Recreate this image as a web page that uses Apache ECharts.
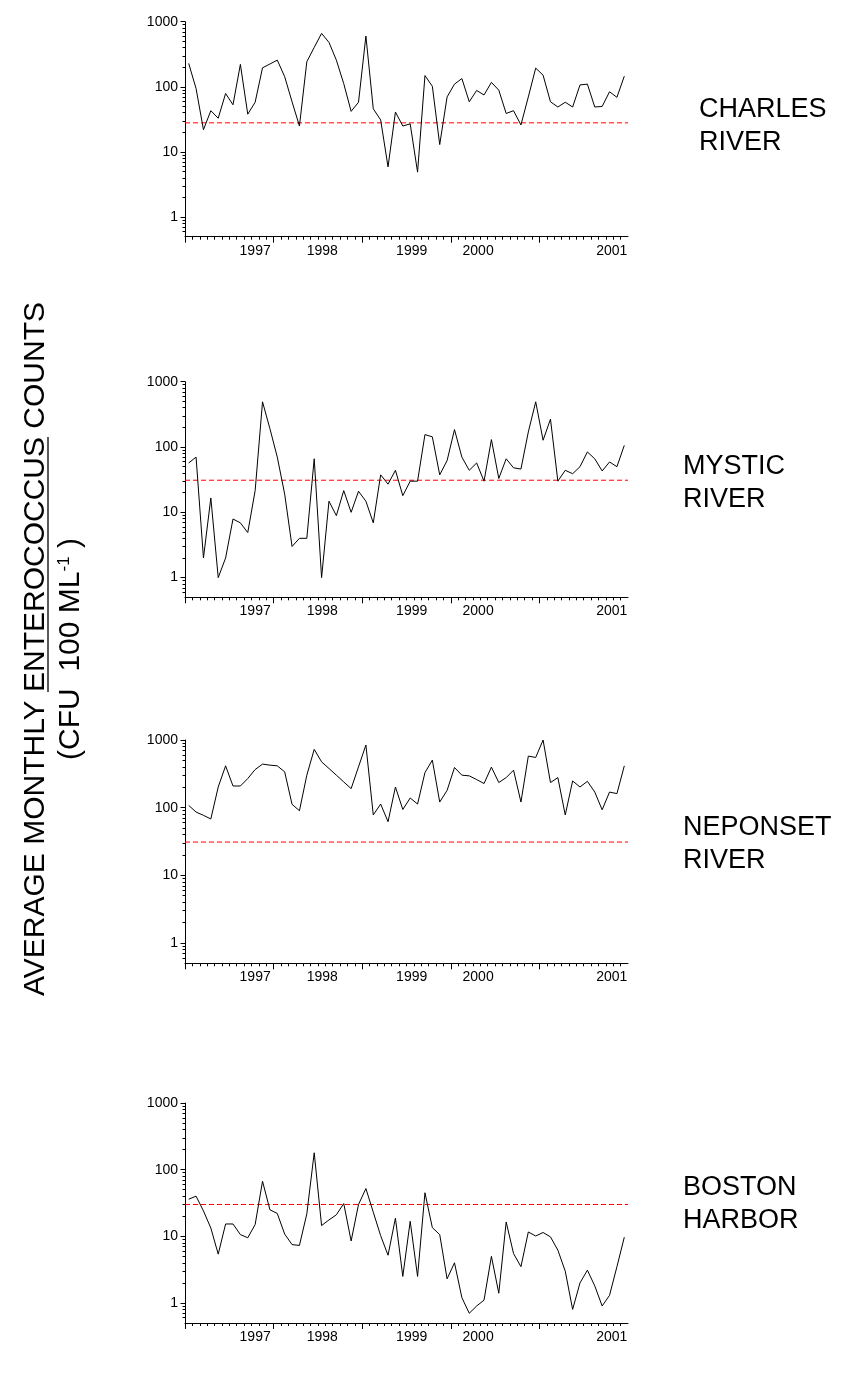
<!DOCTYPE html>
<html>
<head>
<meta charset="utf-8">
<script src="https://cdn.jsdelivr.net/npm/echarts@6/dist/echarts.min.js"></script>
<style>
  html, body { margin: 0; padding: 0; background: #fff; }
  #chart { width: 855px; height: 1376px; }
</style>
</head>
<body>
<div id="chart"></div>
<script>
// Monthly average Enterococcus counts (CFU per 100 mL), 60 consecutive months per site
const CHARLES = [229, 94, 22, 43, 33, 79, 53, 221, 38, 58, 196, 224, 257, 143, 59, 25, 243, 403, 662, 481,
  257, 112, 42, 58, 602, 46, 31, 5.9, 41, 25, 27, 4.9, 149, 102, 13, 70, 110, 134, 59, 88,
  75, 117, 89, 39, 43, 26, 70, 194, 151, 59, 49, 58, 49, 107, 110, 49, 50, 84, 69, 146];
const MYSTIC = [57, 70, 2.0, 16.6, 1.0, 2.0, 7.9, 6.9, 4.9, 21.5, 492, 191, 70, 19, 3.0, 4.0, 4.0, 66, 1.0, 14.8,
  8.9, 21.5, 10, 21, 14.8, 6.9, 37.5, 27, 44, 18, 30, 30, 155, 143, 37.5, 62, 185, 70, 44, 57,
  30, 130, 33, 66, 48, 46, 170, 492, 127, 267, 30, 44, 39, 50, 84, 66, 43, 59, 50, 106];
const NEPONSET = [108, 86, 77, 68, 202, 415, 209, 209, 269, 366, 440, 425, 415, 338, 112, 90, 302, 727, 476, 379,
  302, 240, 191, 401, 843, 78, 113, 62, 202, 94, 139, 113, 330, 504, 121, 180, 392, 302, 295, 260,
  227, 397, 235, 278, 358, 121, 578, 552, 1000, 235, 278, 78, 248, 202, 245, 170, 93, 170, 161, 415];
const BOSTON_HARBOR = [36, 40, 24, 13.3, 5.4, 15.3, 15.3, 10.6, 9.5, 15, 67, 25, 22, 10.8, 7.5, 7.3, 21.7, 179, 14.5, 17.6,
  21, 31, 8.5, 30, 52, 23, 10.2, 5.2, 18.7, 2.5, 16.8, 2.5, 45, 13.5, 10.6, 2.3, 4.0, 1.2, 0.7, 0.9,
  1.1, 5.0, 1.4, 16.4, 5.5, 3.5, 11.6, 10.1, 11.4, 9.8, 6.2, 3.0, 0.8, 2.0, 3.1, 1.8, 0.9, 1.3, 3.5, 9.7];

// Dashed reference level drawn in each panel
const STANDARD = [28, 31, 31, 30];

const SITE_NAMES = [['CHARLES', 'RIVER'], ['MYSTIC', 'RIVER'], ['NEPONSET', 'RIVER'], ['BOSTON', 'HARBOR']];

// Year captions and the month offsets where they sit on the time axis
const YEAR_LABELS = ['1997', '1998', '1999', '2000', '2001'];
const YEAR_LABEL_AT = [9.5, 18.6, 30.7, 39.7, 57.8];

// Log-axis labelled decades
const Y_LABELS = [1, 10, 100, 1000];

// ---------------------------------------------------------------------------
const SERIES_DATA = [CHARLES, MYSTIC, NEPONSET, BOSTON_HARBOR];
const FONT = '"Liberation Sans", Arial, Helvetica, sans-serif';
const MONTHS = 60;
const GRID_LEFT = 185, GRID_WIDTH = 443;
const PANELS = [
  { top: 21.7, height: 215, nameX: 699, nameY: 93.5 },
  { top: 381.7, height: 215.6, nameX: 683, nameY: 450.5 },
  { top: 740, height: 223.3, nameX: 683, nameY: 811.5 },
  { top: 1103, height: 220, nameX: 683, nameY: 1171.5 }
];

// tick positions: months and years along x, 2..9 within each decade along y
const majorX = [0, 12, 24, 36, 48];
const minorX = [];
for (let m = 1; m < MONTHS; m++) if (m % 12) minorX.push(m);
const minorY = [];
[0.1, 1, 10, 100].forEach(d => {
  for (let k = 2; k <= 9; k++) {
    const v = +(k * d).toPrecision(3);
    if (v > 0.5 && v < 1000) minorY.push(v);
  }
});

const black = { color: '#000', width: 1 };
const grid = [], xAxis = [], yAxis = [], series = [];

PANELS.forEach((p, k) => {
  grid.push({ left: GRID_LEFT, width: GRID_WIDTH, top: p.top, height: p.height });

  xAxis.push({
    gridIndex: k, type: 'value', min: 0, max: MONTHS, position: 'bottom',
    axisLine: { show: true, onZero: false, lineStyle: black },
    axisTick: { show: true, customValues: majorX, length: 6, lineStyle: black },
    axisLabel: {
      show: true, customValues: YEAR_LABEL_AT,
      formatter: v => YEAR_LABELS[YEAR_LABEL_AT.indexOf(v)] || '',
      color: '#000', fontFamily: FONT, fontSize: 14, margin: 7
    },
    splitLine: { show: false }
  });
  xAxis.push({
    gridIndex: k, type: 'value', min: 0, max: MONTHS, position: 'bottom',
    axisLine: { show: false, onZero: false },
    axisTick: { show: true, customValues: minorX, length: 3, lineStyle: black },
    axisLabel: { show: false },
    splitLine: { show: false }
  });

  yAxis.push({
    gridIndex: k, type: 'log', logBase: 10, min: 0.5, max: 1000, position: 'left',
    axisLine: { show: true, onZero: false, lineStyle: black },
    axisTick: { show: true, customValues: Y_LABELS, length: 4.5, lineStyle: black },
    axisLabel: {
      show: true, customValues: Y_LABELS,
      formatter: v => String(Math.round(v)),
      color: '#000', fontFamily: FONT, fontSize: 14, margin: 7
    },
    splitLine: { show: false }
  });
  yAxis.push({
    gridIndex: k, type: 'log', logBase: 10, min: 0.5, max: 1000, position: 'left',
    axisLine: { show: false, onZero: false },
    axisTick: { show: true, customValues: minorY, length: 2.5, lineStyle: black },
    axisLabel: { show: false },
    splitLine: { show: false }
  });

  // dashed standard level, spanning the full time range
  series.push({
    type: 'line',
    xAxisIndex: 2 * k, yAxisIndex: 2 * k,
    data: [[0, STANDARD[k]], [MONTHS, STANDARD[k]]],
    symbol: 'none', silent: true, z: 2,
    color: '#ff0000',
    lineStyle: { color: '#ff0000', type: [5, 3], width: 1 }
  });

  // monthly counts
  series.push({
    type: 'line',
    xAxisIndex: 2 * k, yAxisIndex: 2 * k,
    data: SERIES_DATA[k].map((v, i) => [i + 0.5, v]),
    symbol: 'none', silent: true, z: 3,
    color: '#000',
    lineStyle: { color: '#000', width: 1 }
  });
});

// Rotated y-axis title with an underlined organism name
const TITLE_SIZE = 30;
const line1Pre = 'AVERAGE MONTHLY ', line1Word = 'ENTEROCOCCUS', line1Post = ' COUNTS';
const ctx = document.createElement('canvas').getContext('2d');
ctx.font = TITLE_SIZE + 'px ' + FONT;
const wPre = ctx.measureText(line1Pre).width;
const wWord = ctx.measureText(line1Word).width;
const wAll = ctx.measureText(line1Pre + line1Word + line1Post).width;
const uStart = -wAll / 2 + wPre;

const graphic = [
  {
    type: 'group', x: 0, y: 649, rotation: Math.PI / 2,
    children: [
      {
        type: 'text', x: 0, y: 36,
        style: {
          text: line1Pre + line1Word + line1Post, fill: '#000',
          font: TITLE_SIZE + 'px ' + FONT,
          align: 'center', verticalAlign: 'middle', textAlign: 'center', textVerticalAlign: 'middle'
        }
      },
      {
        type: 'line',
        shape: { x1: uStart, y1: 48, x2: uStart + wWord, y2: 48 },
        style: { stroke: '#000', lineWidth: 1.3 }
      },
      {
        type: 'text', x: 0, y: 71,
        style: {
          text: '{n|(CFU  100 ML}{s|-1}{n| )}', fill: '#000',
          align: 'center', verticalAlign: 'middle', textAlign: 'center', textVerticalAlign: 'middle',
          rich: {
            n: { fontFamily: FONT, fontSize: TITLE_SIZE, lineHeight: 30, fill: '#000', verticalAlign: 'bottom' },
            s: { fontFamily: FONT, fontSize: 17, lineHeight: 17, fill: '#000', verticalAlign: 'top' }
          }
        }
      }
    ]
  }
];

PANELS.forEach((p, k) => {
  graphic.push({
    type: 'text', x: p.nameX, y: p.nameY,
    style: {
      text: SITE_NAMES[k].join('\n'), fill: '#000',
      font: '27px ' + FONT, lineHeight: 33,
      align: 'left', verticalAlign: 'top', textAlign: 'left', textVerticalAlign: 'top'
    }
  });
});

const chart = echarts.init(document.getElementById('chart'), null, { renderer: 'canvas' });
chart.setOption({
  animation: false,
  backgroundColor: '#fff',
  grid, xAxis, yAxis, series, graphic
});
</script>
</body>
</html>
